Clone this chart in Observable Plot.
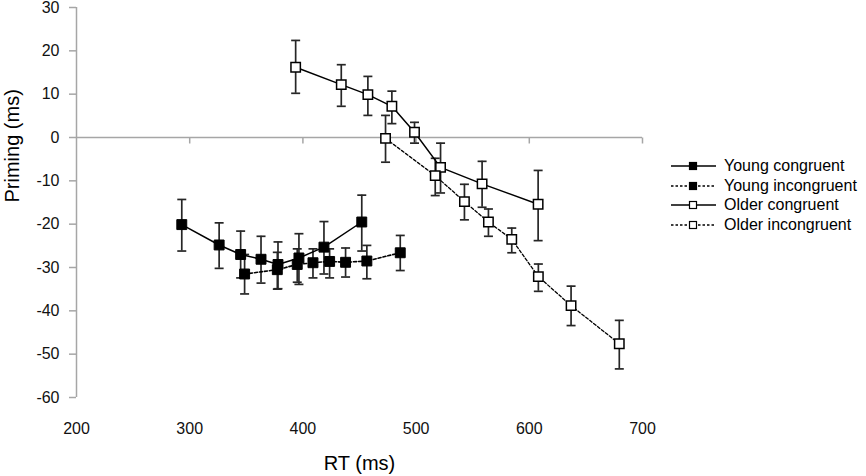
<!DOCTYPE html>
<html>
<head>
<meta charset="utf-8">
<script src="https://cdn.jsdelivr.net/npm/d3@7"></script>
<script src="https://cdn.jsdelivr.net/npm/@observablehq/plot@0.6"></script>
<style>
  html, body { margin: 0; padding: 0; background: #fff; }
  #wrap { position: relative; width: 866px; height: 476px; font-family: "Liberation Sans", Arial, sans-serif; }
  #legend { position: absolute; left: 668px; top: 156px; }
  #legend .row { display: flex; align-items: center; height: 19.7px; font-size: 16px; color: #000; }
  #legend svg { margin-right: 6px; }
</style>
</head>
<body>
<div id="wrap"><div id="legend"></div></div>
<script>
// ---- data ----
const xTicks = [200, 300, 400, 500, 600, 700];
const yTicks = [30, 20, 10, 0, -10, -20, -30, -40, -50, -60];

const seriesNames = ["Young congruent", "Young incongruent", "Older congruent", "Older incongruent"];

const youngCongRT  = [293, 326, 345, 363, 378, 396.5, 418.6, 452];
const youngCongY   = [-20.1, -24.8, -27.0, -28.1, -29.3, -27.8, -25.3, -19.5];
const youngCongHi  = [-14.3, -19.7, -21.6, -22.8, -24.1, -22.2, -19.4, -13.3];
const youngCongLo  = [-26.2, -30.2, -32.4, -33.6, -34.9, -33.9, -31.5, -26.2];

const youngIncRT   = [348.5, 377.4, 395, 408.9, 423.6, 437.7, 456.5, 486];
const youngIncY    = [-31.5, -30.5, -29.3, -28.9, -28.6, -28.8, -28.5, -26.6];
const youngIncHi   = [-27.0, -26.5, -25.7, -25.7, -25.7, -25.5, -24.9, -22.6];
const youngIncLo   = [-36.1, -35.0, -33.4, -32.4, -32.4, -32.2, -32.6, -30.7];

const olderCongRT  = [393.6, 433.9, 457.4, 478.6, 498.6, 521.6, 558.3, 607.8];
const olderCongY   = [16.2, 12.2, 9.9, 7.2, 1.2, -6.9, -10.7, -15.4];
const olderCongHi  = [22.4, 16.8, 14.1, 10.7, 3.5, -1.3, -5.5, -7.6];
const olderCongLo  = [10.2, 7.2, 5.1, 3.2, -1.3, -12.8, -16.1, -23.8];

const olderIncRT   = [473, 516.9, 542.7, 563.9, 584.5, 608, 636.9, 679.5];
const olderIncY    = [-0.2, -8.8, -14.8, -19.5, -23.5, -32.1, -38.8, -47.6];
const olderIncHi   = [5.1, -4.8, -10.8, -16.5, -20.9, -29.2, -34.3, -42.2];
const olderIncLo   = [-5.7, -13.4, -19.0, -22.8, -26.6, -35.5, -43.4, -53.4];

function rows(name, rt, y, hi, lo) {
  return rt.map((r, i) => ({series: name, rt: r, priming: y[i], hi: hi[i], lo: lo[i]}));
}
const yc = rows(seriesNames[0], youngCongRT, youngCongY, youngCongHi, youngCongLo);
const yi = rows(seriesNames[1], youngIncRT, youngIncY, youngIncHi, youngIncLo);
const oc = rows(seriesNames[2], olderCongRT, olderCongY, olderCongHi, olderCongLo);
const oi = rows(seriesNames[3], olderIncRT, olderIncY, olderIncHi, olderIncLo);
const all = [...yc, ...yi, ...oc, ...oi];

// custom symbols
const capSymbol = { draw(ctx) { ctx.moveTo(-4.5, 0); ctx.lineTo(4.5, 0); } };
const tickDown  = { draw(ctx) { ctx.moveTo(0, 0); ctx.lineTo(0, 6); } };

const axisGray = "#a6a6a6";
const errColor = "#262626";

const chart = Plot.plot({
  width: 866,
  height: 476,
  marginLeft: 76,
  marginRight: 224,
  marginTop: 7,
  marginBottom: 79,
  style: { fontFamily: "'Liberation Sans', Arial, sans-serif", fontSize: "16px", background: "transparent", overflow: "visible" },
  x: { domain: [200, 700] },
  y: { domain: [-60, 30] },
  marks: [
    Plot.ruleY([0], { stroke: axisGray, strokeWidth: 1.5 }),
    Plot.ruleX([200], { stroke: axisGray, strokeWidth: 1.5 }),
    Plot.dot(xTicks.slice(1), { x: d => d, y: () => 0, symbol: tickDown, stroke: axisGray, strokeWidth: 1.5, fill: "none" }),
    Plot.axisY({ ticks: yTicks, tickSize: 7, tickPadding: 10, stroke: axisGray, strokeWidth: 1.5, fill: "#111", label: null, tickFormat: d => String(d) }),
    Plot.axisX({ ticks: xTicks, tickSize: 0, tickPadding: 25, fill: "#111", label: null, tickFormat: d => String(d) }),
    Plot.text(["Priming (ms)"], { frameAnchor: "left", rotate: -90, dx: -64, text: d => d, fontSize: 20, fill: "#000", lineAnchor: "middle" }),
    Plot.text(["RT (ms)"], { frameAnchor: "bottom", dy: 66, text: d => d, fontSize: 20, fill: "#000", lineAnchor: "middle" }),
    // error bars
    Plot.ruleX(all, { x: "rt", y1: "lo", y2: "hi", stroke: errColor, strokeWidth: 1.7 }),
    Plot.dot(all, { x: "rt", y: "hi", symbol: capSymbol, stroke: errColor, strokeWidth: 1.7, fill: "none" }),
    Plot.dot(all, { x: "rt", y: "lo", symbol: capSymbol, stroke: errColor, strokeWidth: 1.7, fill: "none" }),
    // lines
    Plot.line(yc, { x: "rt", y: "priming", stroke: "#000", strokeWidth: 1.5 }),
    Plot.line(yi, { x: "rt", y: "priming", stroke: "#000", strokeWidth: 1.6, strokeDasharray: "3,2" }),
    Plot.line(oc, { x: "rt", y: "priming", stroke: "#000", strokeWidth: 1.5 }),
    Plot.line(oi, { x: "rt", y: "priming", stroke: "#000", strokeWidth: 1.3, strokeDasharray: "3,2" }),
    // markers
    Plot.dot([...yc, ...yi], { x: "rt", y: "priming", symbol: "square", r: 5.6, fill: "#000", stroke: "#000", strokeWidth: 1 }),
    Plot.dot([...oc, ...oi], { x: "rt", y: "priming", symbol: "square", r: 5.3, fill: "#fff", stroke: "#000", strokeWidth: 1.5 })
  ]
});

const wrap = document.getElementById("wrap");
wrap.insertBefore(chart, wrap.firstChild);

// legend
const legendSpec = [
  { name: seriesNames[0], dash: null, fill: "#000" },
  { name: seriesNames[1], dash: "2.5,2", fill: "#000" },
  { name: seriesNames[2], dash: null, fill: "#fff" },
  { name: seriesNames[3], dash: "2.5,2", fill: "#fff" }
];
const legend = document.getElementById("legend");
legendSpec.forEach(s => {
  const row = document.createElement("div");
  row.className = "row";
  row.innerHTML =
    `<svg width="50" height="12" viewBox="0 0 50 12">
       <line x1="3" y1="6" x2="48" y2="6" stroke="#000" stroke-width="1.5" ${s.dash ? `stroke-dasharray="${s.dash}"` : ""}/>
       <rect x="21.5" y="2.5" width="7" height="7" fill="${s.fill}" stroke="#000" stroke-width="1.2"/>
     </svg><span>${s.name}</span>`;
  legend.appendChild(row);
});
</script>
</body>
</html>
